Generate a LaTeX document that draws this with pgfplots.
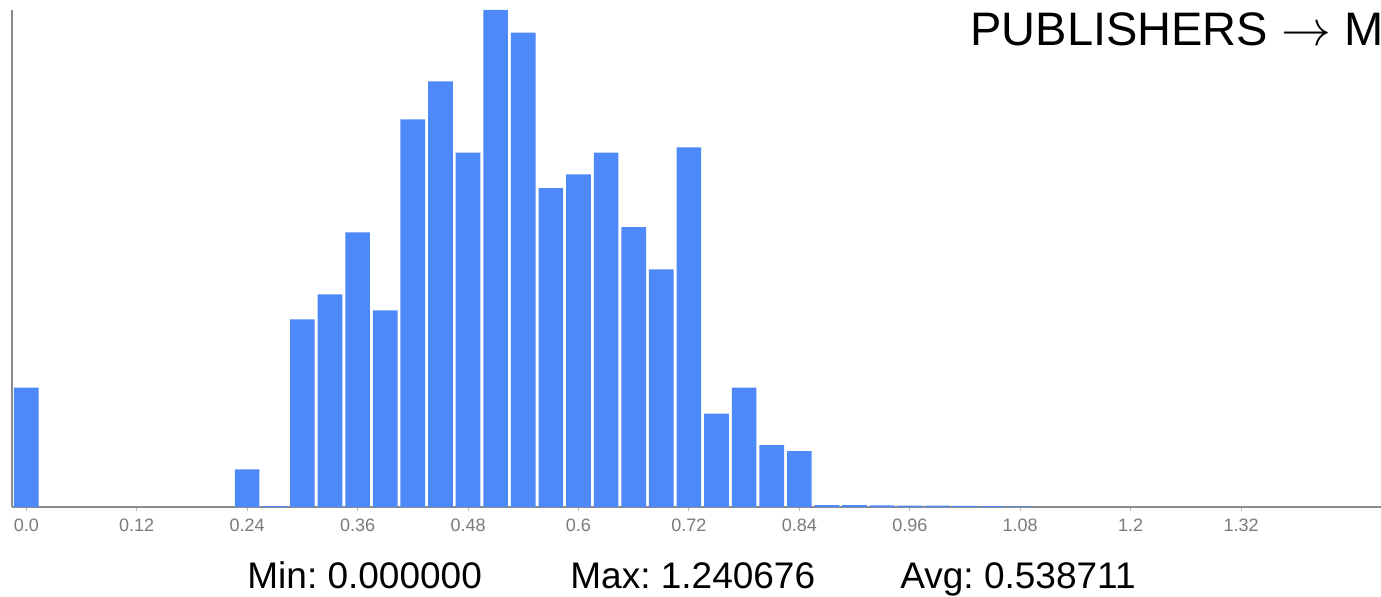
\documentclass[border=0pt]{standalone}
\usepackage{pgfplots}
\pgfplotsset{compat=1.18}
\usepackage{pgfplotstable}
\usepackage{fontspec}
\setmainfont{Liberation Sans}
\frenchspacing
\definecolor{barblue}{HTML}{4D89F9}
\definecolor{axisgray}{HTML}{8C8C8C}
\definecolor{tickgray}{HTML}{BBBBBB}
\definecolor{ticklab}{HTML}{7A7A7A}
\pgfplotstableread{
x y
0.00 119.3
0.24 37.7
0.27 1.0
0.30 187.7
0.33 212.7
0.36 274.7
0.39 196.7
0.42 387.7
0.45 425.7
0.48 354.3
0.51 497
0.54 474.3
0.57 319
0.60 332.7
0.63 354.3
0.66 280
0.69 237.7
0.72 359.7
0.75 93.3
0.78 119.3
0.81 62
0.84 56
0.87 2.0
0.90 1.8
0.93 1.6
0.96 1.5
0.99 1.3
1.02 1.1
1.05 0.9
1.08 0.6
}\histdata
\begin{document}
\begin{tikzpicture}[x=0.5pt,y=0.5pt]
\useasboundingbox (0,0) rectangle (1381,596);
\clip (0,0) rectangle (1381,596);
\begin{axis}[
  at={(6pt,44.5pt)}, anchor=south west,
  scale only axis, width=684.5pt, height=248.5pt,
  xmin=-0.0155, xmax=1.472, ymin=0, ymax=497,
  axis x line=bottom, axis y line=left,
  axis line style={-, draw=axisgray, line width=0.6pt},
  ytick=\empty,
  xtick={0,0.12,0.24,0.36,0.48,0.6,0.72,0.84,0.96,1.08,1.2,1.32},
  xticklabels={0.0,0.12,0.24,0.36,0.48,0.6,0.72,0.84,0.96,1.08,1.2,1.32},
  tick align=outside, major tick length=2pt,
  xtick style={draw=tickgray, line width=0.5pt},
  xticklabel style={font=\fontsize{9}{10}\selectfont, text=ticklab, inner sep=0pt, yshift=-4pt},
  /pgf/number format/assume math mode=true,
  clip=false,
]
\addplot[ybar, bar width=0.0268, fill=barblue, draw=none] table[x=x,y=y] {\histdata};
\end{axis}
\node[anchor=base west, inner sep=0pt, font=\fontsize{23.5}{26}\selectfont] at (970,551) {PUBLISHERS $\rightarrow$ M};
\node[anchor=base west, inner sep=0pt, font=\fontsize{18.5}{20}\selectfont] at (247,8) {Min: 0.000000};
\node[anchor=base west, inner sep=0pt, font=\fontsize{18.5}{20}\selectfont] at (570,8) {Max: 1.240676};
\node[anchor=base west, inner sep=0pt, font=\fontsize{18.5}{20}\selectfont] at (900,8) {Avg: 0.538711};
\end{tikzpicture}
\end{document}
